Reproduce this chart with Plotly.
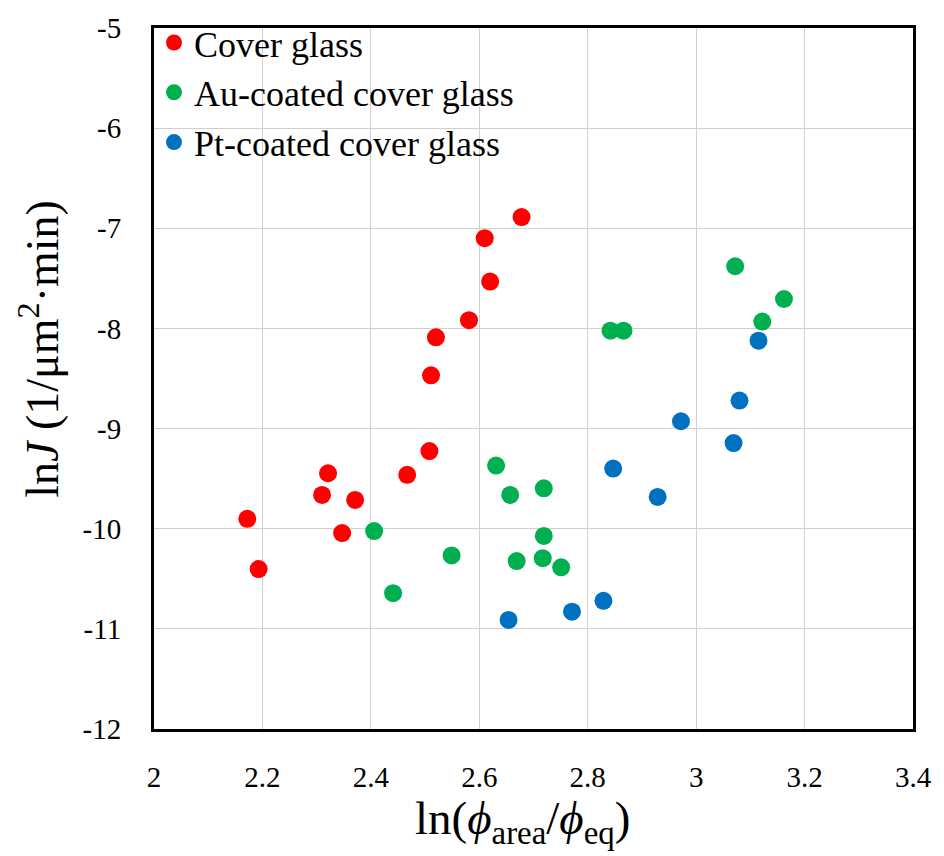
import plotly.graph_objects as go

# ln(phi_area/phi_eq) and lnJ for each substrate
cover_x = [2.678, 2.610, 2.620, 2.581, 2.520, 2.511, 2.508, 2.467, 2.321, 2.310, 2.371, 2.172, 2.347, 2.193]
cover_y = [-6.888, -7.099, -7.532, -7.918, -8.089, -8.468, -9.225, -9.462, -9.446, -9.663, -9.713, -9.901, -10.043, -10.403]

au_x = [3.072, 3.162, 3.122, 2.842, 2.866, 2.631, 2.657, 2.719, 2.719, 2.717, 2.751, 2.406, 2.549, 2.669, 2.441]
au_y = [-7.379, -7.706, -7.931, -8.023, -8.023, -9.370, -9.663, -9.597, -10.072, -10.294, -10.386, -10.023, -10.267, -10.323, -10.644]

pt_x = [3.115, 3.080, 2.972, 3.069, 2.847, 2.929, 2.829, 2.771, 2.654]
pt_y = [-8.122, -8.720, -8.927, -9.145, -9.399, -9.683, -10.720, -10.829, -10.911]

x_ticks = [2, 2.2, 2.4, 2.6, 2.8, 3, 3.2, 3.4]
x_tick_text = ["2", "2.2", "2.4", "2.6", "2.8", "3", "3.2", "3.4"]
y_ticks = [-5, -6, -7, -8, -9, -10, -11, -12]
y_tick_text = ["-5", "-6", "-7", "-8", "-9", "-10", "-11", "-12"]

x_title = "ln(<i>ϕ</i><sub>area</sub>/<i>ϕ</i><sub>eq</sub>)"
y_title = "ln<i>J</i> (1/μm<sup>2</sup>·min)"

FONT = "Liberation Serif"

fig = go.Figure()
series = [
    ("Cover glass", cover_x, cover_y, "#FF0000"),
    ("Au-coated cover glass", au_x, au_y, "#00B050"),
    ("Pt-coated cover glass", pt_x, pt_y, "#0070C0"),
]
for name, xs, ys, color in series:
    fig.add_trace(go.Scatter(
        x=xs, y=ys, mode="markers", name=name,
        marker=dict(size=18, color=color, line=dict(width=0)),
    ))

axis_common = dict(
    showgrid=True, gridcolor="#d0d0d0", gridwidth=1,
    zeroline=False, showline=True, linecolor="black", linewidth=3, mirror=True,
    ticks="", tickfont=dict(family=FONT, size=29, color="black"),
)

fig.update_layout(
    width=944, height=856,
    margin=dict(l=154, r=27, t=22, b=127),
    paper_bgcolor="white", plot_bgcolor="white",
    font=dict(family=FONT, size=26, color="black"),
    showlegend=True,
    legend=dict(
        x=0.0, y=1.022, xanchor="left", yanchor="top",
        bgcolor="rgba(0,0,0,0)", borderwidth=0,
        font=dict(family=FONT, size=36, color="black"),
        itemsizing="trace", itemwidth=30, tracegroupgap=0,
    ),
    xaxis=dict(range=[2, 3.4], tickvals=x_ticks, ticktext=x_tick_text,
               ticklabelstandoff=20, **axis_common),
    yaxis=dict(range=[-12, -5], tickvals=y_ticks, ticktext=y_tick_text,
               ticklabelstandoff=24, **axis_common),
    annotations=[
        dict(text=x_title, xref="paper", yref="paper", x=0.485, y=-0.1315,
             xanchor="center", yanchor="middle", showarrow=False,
             font=dict(family=FONT, size=47, color="black")),
        dict(text=y_title, xref="paper", yref="paper", x=-0.152, y=0.542,
             xanchor="center", yanchor="middle", showarrow=False, textangle=-90,
             font=dict(family=FONT, size=46, color="black")),
    ],
)

fig.write_html("out.html")
